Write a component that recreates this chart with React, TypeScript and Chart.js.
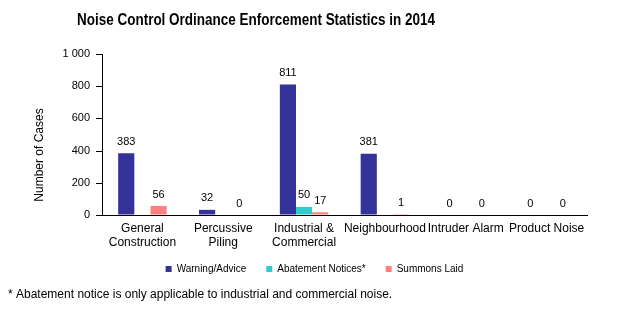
import { useEffect, useRef } from "react";
import { Chart, registerables } from "chart.js";

Chart.register(...registerables);

const categories: (string | string[])[] = [
  ["General", "Construction"],
  ["Percussive", "Piling"],
  ["Industrial &", "Commercial"],
  "Neighbourhood",
  "Intruder Alarm",
  "Product Noise",
];
const warningAdvice = [383, 32, 811, 381, 0, 0];
const abatementNotices = [null, null, 50, null, null, null];
const summonsLaid = [56, 0, 17, 1, 0, 0];
const seriesNames = ["Warning/Advice", "Abatement Notices*", "Summons Laid"];
const yMin = 0;
const yMax = 1000;
const yStep = 200;
const titleText = "Noise Control Ordinance Enforcement Statistics in 2014";
const yAxisTitle = "Number of Cases";
const footnote = "* Abatement notice is only applicable to industrial and commercial noise.";

const FAMILY = "'Liberation Sans', Arial, sans-serif";

const textPlugin = {
  id: "textPlugin",
  afterLayout(chart: any) {
    const l = chart.legend;
    if (l) {
      l.top -= 11;
      l.bottom -= 11;
      l.left += 21;
      l.right += 21;
    }
  },
  afterDatasetsDraw(chart: any) {
    const ctx = chart.ctx;
    ctx.save();
    ctx.font = `11px ${FAMILY}`;
    ctx.fillStyle = "#000";
    ctx.textAlign = "center";
    ctx.textBaseline = "bottom";
    chart.data.datasets.forEach((ds: any, i: number) => {
      const meta = chart.getDatasetMeta(i);
      meta.data.forEach((el: any, j: number) => {
        const v = ds.data[j];
        if (v === null || v === undefined) return;
        ctx.fillText(String(v), el.x, el.y - 6);
      });
    });
    ctx.restore();
  },
  afterDraw(chart: any) {
    const ctx = chart.ctx;
    ctx.save();
    ctx.fillStyle = "#000";
    const ys = chart.scales.y;
    const axisX = Math.round(chart.chartArea.left);
    ys.ticks.forEach((t: any) => {
      const py = Math.round(ys.getPixelForValue(t.value));
      ctx.fillRect(axisX - 6, py, 6, 1);
    });
    ctx.font = `bold 16px ${FAMILY}`;
    ctx.textAlign = "center";
    ctx.textBaseline = "middle";
    ctx.fillText(titleText, 256, 21, 358);
    ctx.save();
    ctx.font = `12px ${FAMILY}`;
    ctx.translate(40, 155);
    ctx.rotate(-Math.PI / 2);
    ctx.fillText(yAxisTitle, 0, 0);
    ctx.restore();
    ctx.font = `12px ${FAMILY}`;
    ctx.textAlign = "left";
    ctx.fillText(footnote, 8, 295, 387);
    ctx.restore();
  },
};

export default function App() {
  const ref = useRef<HTMLCanvasElement | null>(null);
  useEffect(() => {
    document.body.style.margin = "0";
    if (!ref.current) return;
    const chart = new Chart(ref.current, {
      type: "bar",
      data: {
        labels: categories,
        datasets: [
          { label: seriesNames[0], data: warningAdvice, backgroundColor: "#333399" },
          { label: seriesNames[1], data: abatementNotices as any, backgroundColor: "#33CCCC" },
          { label: seriesNames[2], data: summonsLaid, backgroundColor: "#FF8080" },
        ],
      },
      options: {
        responsive: false,
        animation: false,
        events: [],
        layout: { padding: { top: 54, right: 30, bottom: 27, left: 0 } },
        datasets: { bar: { categoryPercentage: 0.6, barPercentage: 1.0 } } as any,
        scales: {
          x: {
            grid: { display: false, drawTicks: false },
            border: { color: "#000", width: 1 },
            ticks: { color: "#000", font: { size: 12, family: FAMILY }, padding: 6, maxRotation: 0, autoSkip: false },
            afterFit: (s: any) => { s.height = 40; },
          },
          y: {
            min: yMin,
            max: yMax,
            grid: { display: true, drawOnChartArea: false, drawTicks: false, color: "#000" },
            border: { color: "#000", width: 1 },
            ticks: {
              stepSize: yStep,
              color: "#000",
              padding: 12,
              font: { size: 11, family: FAMILY },
              callback: (v: any) => String(v).replace(/\B(?=(\d{3})+(?!\d))/g, " "),
            },
            afterFit: (s: any) => { s.width = 102; },
          },
        },
        plugins: {
          legend: {
            position: "bottom",
            labels: { boxWidth: 6, boxHeight: 6, padding: 20, color: "#000", font: { size: 10, family: FAMILY } },
          },
          tooltip: { enabled: false },
        },
      },
      plugins: [textPlugin],
    });
    return () => chart.destroy();
  }, []);
  return (
    <div style={{ width: 617, height: 322, position: "relative", background: "#fff" }}>
      <canvas ref={ref} width={617} height={322} />
    </div>
  );
}
